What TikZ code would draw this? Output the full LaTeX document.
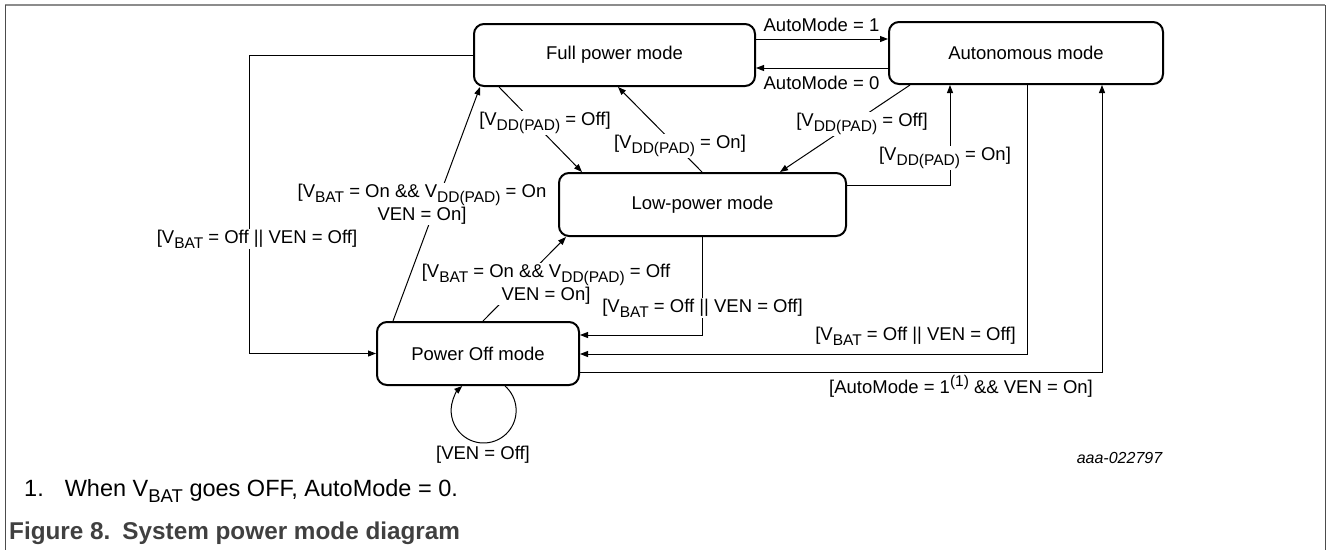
\documentclass[tikz,border=0pt]{standalone}
\usepackage{fontspec}
\setmainfont{Liberation Sans}
\usetikzlibrary{arrows.meta}
\newcommand\dfont{\fontsize{18.5}{21}\selectfont}
\newcommand\sbs[1]{\raisebox{-5pt}{\fontsize{15.5}{15.5}\selectfont #1}}
\newcommand\sps[1]{\raisebox{7pt}{\fontsize{15.5}{15.5}\selectfont #1}}
\definecolor{capgray}{HTML}{404040}
\definecolor{framegray}{HTML}{8C8C8C}
\begin{document}
\begin{tikzpicture}[x=1pt,y=-1pt,
 state/.style={draw, line width=2pt, rounded corners=10pt, inner sep=0pt, font=\dfont},
 conn/.style={line width=1pt},
 arr/.style={conn,-{Triangle[length=8pt,width=6pt]}},
 lbl/.style={font=\dfont, inner sep=1pt, align=center},
 wlbl/.style={lbl, fill=white},
]
\useasboundingbox (0,0) rectangle (1326,550);
\draw[framegray, line width=1.6pt] (5,5) -- (1325,5);
\draw[black!70, line width=1pt] (5,5) -- (5,550);
\draw[black!70, line width=1pt] (1325,5) -- (1325,550);

\node[state, minimum width=281pt, minimum height=62pt] (full) at (614.5,55) {Full power mode};
\node[state, minimum width=274pt, minimum height=62pt] (auto) at (1026,53) {Autonomous mode};
\node[state, minimum width=287pt, minimum height=63pt] (low) at (702.5,204.5) {Low-power mode};
\node[state, minimum width=202pt, minimum height=63pt] (off) at (478,353.5) {Power Off mode};

\draw[arr] (full.east |- 0,39) -- (auto.west |- 0,39) node[lbl] at (821.5,25) {AutoMode = 1};
\draw[arr] (auto.west |- 0,68) -- (full.east |- 0,68) node[lbl] at (821.5,83) {AutoMode = 0};

\draw[arr] (499,0 |- full.south) -- (582,0 |- low.north) node[wlbl] at (545,123) {[V\sbs{DD(PAD)} = Off]};
\draw[arr] (702,0 |- low.north) -- (618,0 |- full.south) node[wlbl] at (680,146) {[V\sbs{DD(PAD)} = On]};
\draw[arr] (910,0 |- auto.south) -- (780,0 |- low.north) node[wlbl] at (862,124) {[V\sbs{DD(PAD)} = Off]};
\draw[arr] (low.east |- 0,185) -| (950,0 |- auto.south) node[wlbl] at (945,158) {[V\sbs{DD(PAD)} = On]};

\draw[arr] (full.west) -| (249,0 |- off.west) -- (off.west) node[wlbl] at (257,239) {[V\sbs{BAT} = Off || VEN = Off]};

\draw[arr] (393,0 |- off.north) -- (480,0 |- full.south) node[wlbl] at (422,204) {[V\sbs{BAT} = On \&\& V\sbs{DD(PAD)} = On\\VEN = On]};
\draw[arr] (483,0 |- off.north) -- (566,0 |- low.south) node[wlbl] at (546,284) {[V\sbs{BAT} = On \&\& V\sbs{DD(PAD)} = Off\\VEN = On]};
\draw[arr] (702,0 |- low.south) |- (off.east |- 0,335) node[wlbl] at (702.5,308) {[V\sbs{BAT} = Off || VEN = Off]};

\draw[arr] (1027,0 |- auto.south) |- (off.east |- 0,354) node[lbl] at (915.5,336) {[V\sbs{BAT} = Off || VEN = Off]};
\draw[arr] (off.east |- 0,372) -| (1102,0 |- auto.south) node[lbl] at (961,386) {[AutoMode = 1\sps{(1)} \&\& VEN = On]};

\draw[arr] (505,0 |- off.south) arc[start angle=48.9, end angle=-228.9, radius=32.5pt];
\node[lbl] (loopl) at (483,455) {[VEN = Off]};

\node[font=\fontsize{16}{19}\selectfont\itshape, inner sep=0pt] (id) at (1119.5,458) {aaa-022797};
\node[anchor=west, font=\fontsize{23.5}{28}\selectfont, inner sep=0pt] (fn) at (24,491) {1.\hspace{21pt}When V\raisebox{-6pt}{\fontsize{18.5}{18.5}\selectfont BAT} goes OFF, AutoMode = 0.};
\node[anchor=west, font=\fontsize{24.3}{28}\selectfont\bfseries, text=capgray, inner sep=0pt] (cap) at (9,533) {Figure 8.\hspace{12pt}System power mode diagram};
\end{tikzpicture}
\end{document}
